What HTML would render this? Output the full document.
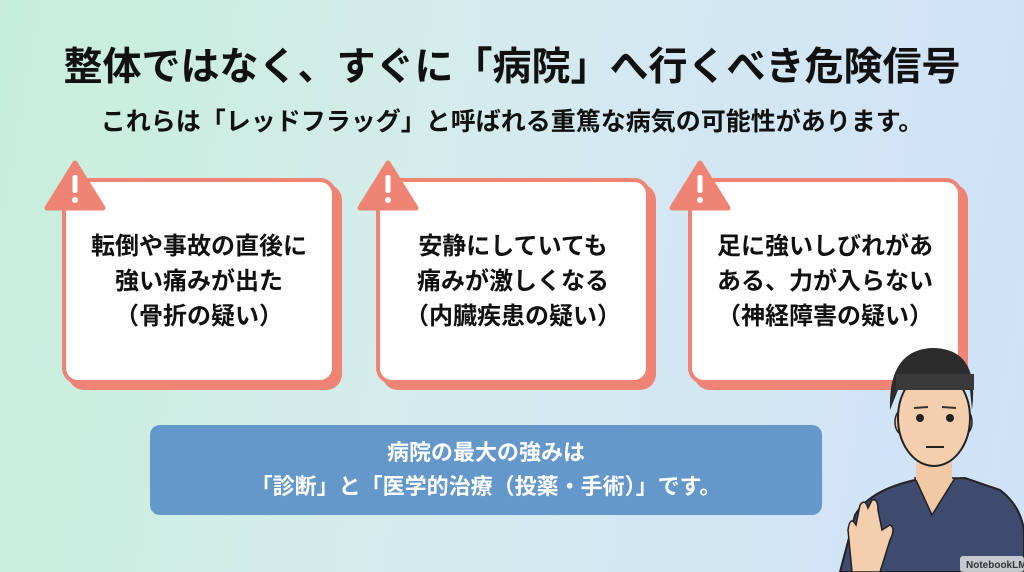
<!DOCTYPE html>
<html><head><meta charset="utf-8"><style>
body{margin:0;width:1024px;height:572px;overflow:hidden;font-family:"Liberation Sans","Noto Sans CJK JP",sans-serif;font-weight:bold;color:#111;
background:linear-gradient(100deg,#c6eedb 0%,#d4ecea 40%,#d3e6f4 70%,#cfe2f7 100%);position:relative}
.t{position:absolute;left:0;width:1024px;text-align:center;white-space:nowrap}
.card{position:absolute;top:178px;width:266px;height:198px;background:#fff;border:4px solid #f08474;border-radius:16px;box-shadow:6px 6px 0 #f08474;display:flex;align-items:center;justify-content:center;text-align:center;font-size:24px;line-height:35px;color:#111}
.tri{position:absolute;top:160px}
.blue{position:absolute;left:150px;top:425px;width:672px;height:90px;background:#6498cb;border-radius:10px;color:#fff;text-align:center;font-size:22px;line-height:34px;display:flex;align-items:center;justify-content:center}
</style></head><body>
<div class="t" style="top:36px;font-size:39px;">整体ではなく、すぐに「病院」へ行くべき危険信号</div>
<div class="t" style="top:102px;font-size:25px;">これらは「レッドフラッグ」と呼ばれる重篤な病気の可能性があります。</div>
<div class="card" style="left:62px">転倒や事故の直後に<br>強い痛みが出た<br>（骨折の疑い）</div>
<div class="card" style="left:376px">安静にしていても<br>痛みが激しくなる<br>（内臓疾患の疑い）</div>
<div class="card" style="left:688px">足に強いしびれがあ<br>ある、力が入らない<br>（神経障害の疑い）</div>
<svg class="tri" style="left:44px" width="62" height="52"><path d="M31 3 L59 48 L3 48 Z" fill="#f08474" stroke="#f08474" stroke-width="5" stroke-linejoin="round"/><rect x="28.5" y="15" width="5" height="18" rx="2" fill="#fff"/><circle cx="31" cy="40" r="3" fill="#fff"/></svg>
<svg class="tri" style="left:357px" width="62" height="52"><path d="M31 3 L59 48 L3 48 Z" fill="#f08474" stroke="#f08474" stroke-width="5" stroke-linejoin="round"/><rect x="28.5" y="15" width="5" height="18" rx="2" fill="#fff"/><circle cx="31" cy="40" r="3" fill="#fff"/></svg>
<svg class="tri" style="left:669px" width="62" height="52"><path d="M31 3 L59 48 L3 48 Z" fill="#f08474" stroke="#f08474" stroke-width="5" stroke-linejoin="round"/><rect x="28.5" y="15" width="5" height="18" rx="2" fill="#fff"/><circle cx="31" cy="40" r="3" fill="#fff"/></svg>
<div class="blue"><div>病院の最大の強みは<br>「診断」と「医学的治療（投薬・手術）」です。</div></div>
<svg style="position:absolute;left:820px;top:330px" width="204" height="242">
<path d="M20 242 L35 185 Q50 160 95 150 L145 148 L180 160 Q200 175 204 200 L204 242 Z" fill="#3e4a6e" stroke="#222" stroke-width="2"/>
<path d="M95 148 L112 185 L135 148 Z" fill="#f1c9a5" stroke="#222" stroke-width="1.5"/>
<rect x="96" y="118" width="36" height="32" fill="#f1c9a5"/>
<ellipse cx="82" cy="92" rx="7" ry="12" fill="#f1c9a5" stroke="#222" stroke-width="1.5"/>
<ellipse cx="145" cy="92" rx="7" ry="12" fill="#f1c9a5" stroke="#222" stroke-width="1.5"/>
<ellipse cx="114" cy="88" rx="36" ry="48" fill="#f4cfae" stroke="#222" stroke-width="2"/>
<path d="M70 80 Q68 20 112 18 Q160 18 152 80 L150 60 Q114 48 78 60 Z" fill="#2c2c2c"/>
<rect x="76" y="44" width="78" height="16" fill="#3a3a3a"/>
<circle cx="100" cy="88" r="4" fill="#222"/><circle cx="130" cy="88" r="4" fill="#222"/>
<path d="M94 78 L108 77 M122 77 L136 78" stroke="#333" stroke-width="2"/>
<path d="M106 117 L124 117" stroke="#222" stroke-width="2"/>
<path d="M32 242 L28 200 Q30 185 36 195 L40 175 Q45 168 48 178 L52 170 Q58 168 58 180 L62 200 L70 195 Q76 198 70 210 L60 242 Z" fill="#f4cfae" stroke="#222" stroke-width="1.5"/>
<rect x="140" y="226" width="64" height="16" rx="3" fill="#e8e8e8" opacity=".8"/>
<text x="146" y="238" font-size="10" fill="#333" font-family="Liberation Sans">NotebookLM</text>
</svg>
</body></html>
